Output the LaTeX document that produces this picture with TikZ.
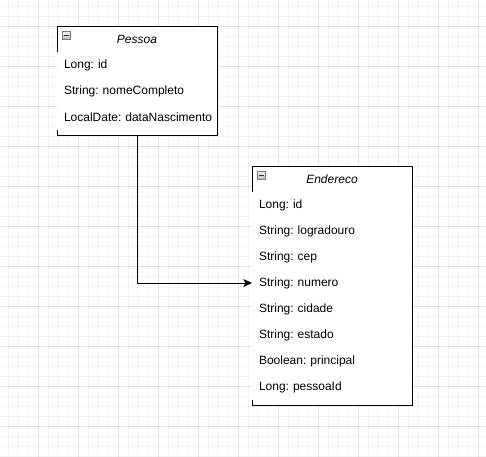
\documentclass[tikz,border=0pt]{standalone}
\usepackage{fontspec}
\setmainfont{Liberation Sans}
\usetikzlibrary{arrows.meta, positioning, backgrounds}
\definecolor{gridminor}{HTML}{F4F4F4}
\definecolor{gridmajor}{HTML}{E2E2E2}
\definecolor{icontop}{HTML}{F2F2F2}
\definecolor{iconbottom}{HTML}{B8B8B8}
\definecolor{iconline}{HTML}{7A7A7A}
\frenchspacing
\tikzset{
    classhead/.style={rectangle, draw=black, fill=white, line width=0.75pt, minimum width=120pt, minimum height=19.5pt, inner sep=0pt, outer sep=0pt, font=\fontsize{9}{11}\selectfont\itshape},
    attr/.style={rectangle, fill=white, minimum width=120pt, minimum height=19.5pt, inner sep=0pt, outer sep=0pt, text width=120pt, align=left, font=\fontsize{9}{11}\selectfont, execute at begin node={\hspace*{5.25pt}}},
    classbody/.style={draw=black, fill=white, line width=0.75pt},
    minusicon/.style={rectangle, draw=iconline, line width=0.5pt, top color=icontop, bottom color=iconbottom, minimum size=6.5pt, inner sep=0pt,
        path picture={\draw[line width=0.9pt, black!80] ([xshift=1.4pt]path picture bounding box.west) -- ([xshift=-1.4pt]path picture bounding box.east);}},
    link/.style={-{Stealth[length=6.5pt, width=6pt, inset=1.5pt]}, line width=0.75pt, black}
}

\begin{document}
\begin{tikzpicture}[x=0.75pt, y=-0.75pt]
    \useasboundingbox (0,0) rectangle (486,457);

    % grid
    \begin{scope}[on background layer]
        \fill[white] (0,0) rectangle (486,457);
        \foreach \gx in {8,18,...,478} \draw[gridminor, line width=0.75pt] (\gx,0) -- (\gx,457);
        \foreach \gy in {6,16,...,456} \draw[gridminor, line width=0.75pt] (0,\gy) -- (486,\gy);
        \foreach \gx in {38,78,...,478} \draw[gridmajor, line width=0.75pt] (\gx,0) -- (\gx,457);
        \foreach \gy in {26,66,...,426} \draw[gridmajor, line width=0.75pt] (0,\gy) -- (486,\gy);
    \end{scope}

    % Pessoa
    \node [classhead] (pHead) at (137,39) {Pessoa};
    \node [minusicon] (pIcon) at ([xshift=7.1pt, yshift=-7.1pt]pHead.north west) {};
    \node [attr, below=0pt of pHead] (pId) {Long: id};
    \node [attr, below=0pt of pId] (pNome) {String: nomeCompleto};
    \node [attr, below=0pt of pNome] (pData) {LocalDate: dataNascimento};
    \coordinate (pBottom) at ([yshift=-3.75pt]pData.south);

    % Endereco
    \node [classhead] (eHead) at (332,179) {Endereco};
    \node [minusicon] (eIcon) at ([xshift=7.1pt, yshift=-7.1pt]eHead.north west) {};
    \node [attr, below=0pt of eHead] (eId) {Long: id};
    \node [attr, below=0pt of eId] (eLogr) {String: logradouro};
    \node [attr, below=0pt of eLogr] (eCep) {String: cep};
    \node [attr, below=0pt of eCep] (eNumero) {String: numero};
    \node [attr, below=0pt of eNumero] (eCidade) {String: cidade};
    \node [attr, below=0pt of eCidade] (eEstado) {String: estado};
    \node [attr, below=0pt of eEstado] (ePrincipal) {Boolean: principal};
    \node [attr, below=0pt of ePrincipal] (ePessoa) {Long: pessoaId};

    \begin{scope}[on background layer]
        \draw [classbody] (pHead.south west) rectangle ([yshift=-3.75pt]pData.south east);
        \draw [classbody] (eHead.south west) rectangle ([yshift=-3.75pt]ePessoa.south east);
    \end{scope}

    \draw [link] (pBottom) |- (eNumero.west);
\end{tikzpicture}
\end{document}
